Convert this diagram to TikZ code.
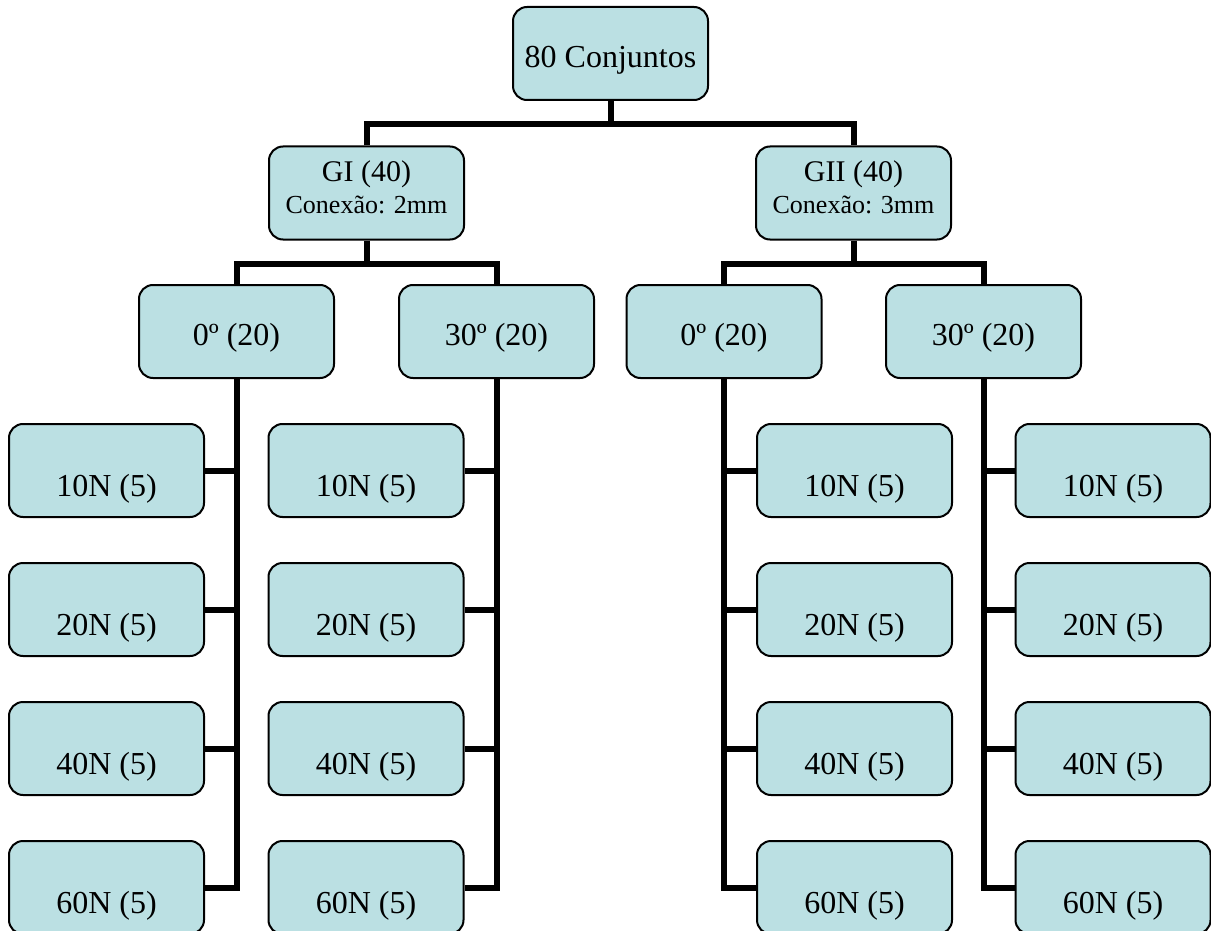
\documentclass[tikz,border=0pt]{standalone}
\usepackage{fontspec}
\setmainfont{Liberation Serif}
\usetikzlibrary{backgrounds}
\definecolor{boxfill}{RGB}{187,224,227}
\tikzset{
  box/.style={draw=black, line width=2pt, fill=boxfill, rounded corners=14pt,
    minimum width=195pt, minimum height=93pt, inner sep=0pt,
    font=\fontsize{32}{36}\selectfont, text height=28pt, text depth=0pt},
  leaf/.style={box, text height=52pt},
  conn/.style={draw=black, line width=6pt, line join=miter},
  gtitle/.style={anchor=base, inner sep=0pt, font=\fontsize{30}{32}\selectfont},
  gsub/.style={anchor=base, inner sep=0pt, font=\fontsize{26}{28}\selectfont}
}
\begin{document}
\begin{tikzpicture}[x=1pt,y=-1pt]
\useasboundingbox (0,0) rectangle (1211,931);
% top
\node[box] (top) at (610.5,53.5) {80 Conjuntos};
% groups
\node[box] (GI) at (366.5,193) {};
\node[gtitle] (GIt) at (366.5,182) {GI (40)};
\node[gsub] (GIs) at (366.5,214) {Conexão: 2mm};
\node[box] (GII) at (853.5,193) {};
\node[gtitle] (GIIt) at (853.5,182) {GII (40)};
\node[gsub] (GIIs) at (853.5,214) {Conexão: 3mm};
% angles
\node[box] (L0) at (236.5,331.5) {0º (20)};
\node[box] (L30) at (496.5,331.5) {30º (20)};
\node[box] (R0) at (724,331.5) {0º (20)};
\node[box] (R30) at (983.5,331.5) {30º (20)};
% leaves
\foreach \c/\x in {a/106.5,b/366,c/854.5,d/1113}{
  \foreach \r/\y/\t in {1/470.5/10N (5),2/609.5/20N (5),3/748.5/40N (5),4/887.5/60N (5)}{
    \node[leaf] (\c\r) at (\x,\y) {\t};
  }
}
\begin{scope}[on background layer]
  \draw[conn] (top.south) -- ++(0,23) coordinate (tj);
  \draw[conn] (GI.north) |- (tj) -| (GII.north);
  \draw[conn] (GI.south) -- ++(0,23) coordinate (gij);
  \draw[conn] (L0.north) |- (gij) -| (L30.north);
  \draw[conn] (GII.south) -- ++(0,23) coordinate (giij);
  \draw[conn] (R0.north) |- (giij) -| (R30.north);
  % columns
  \draw[conn] (L0.south) |- (a4.east);
  \draw[conn] (L30.south) |- (b4.east);
  \draw[conn] (R0.south) |- (c4.west);
  \draw[conn] (R30.south) |- (d4.west);
  \foreach \r in {1,2,3}{
    \draw[conn] (a\r.east) -- (a\r.east -| L0.south);
    \draw[conn] (b\r.east) -- (b\r.east -| L30.south);
    \draw[conn] (c\r.west) -- (c\r.west -| R0.south);
    \draw[conn] (d\r.west) -- (d\r.west -| R30.south);
  }
\end{scope}
\end{tikzpicture}
\end{document}
